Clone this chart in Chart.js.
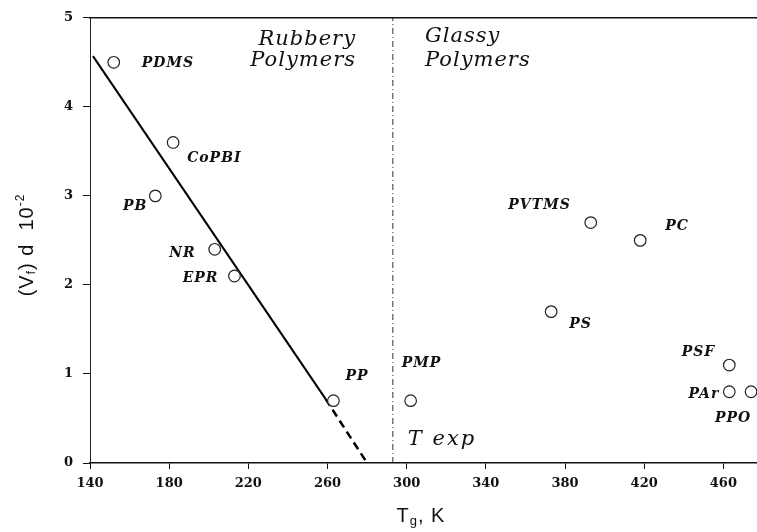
<!DOCTYPE html>
<html>
<head>
<meta charset="utf-8">
<script src="https://cdn.jsdelivr.net/npm/chart.js@4.4.1/dist/chart.umd.min.js"></script>
<style>
  html, body { margin: 0; padding: 0; background: #fff; overflow: hidden; }
  #wrap { position: relative; width: 757px; height: 532px; }
</style>
</head>
<body>
<div id="wrap"><canvas id="c" width="757" height="532"></canvas></div>
<script>
// Polymers, glass transition temperature (K) and free volume fraction (x 10^-2)
const polymers = ['PDMS', 'CoPBI', 'PB', 'NR', 'EPR', 'PP', 'PMP', 'PS', 'PVTMS', 'PC', 'PSF', 'PAr', 'PPO'];
const tg = [152, 182, 173, 203, 213, 263, 302, 373, 393, 418, 463, 463, 474];
const vf = [4.5, 3.6, 3.0, 2.4, 2.1, 0.7, 0.7, 1.7, 2.7, 2.5, 1.1, 0.8, 0.8];

// Correlation line for the rubbery polymers and its extrapolation to zero
const fitT = [141.5, 259];
const fitV = [4.57, 0.72];
const extT = [259, 280];
const extV = [0.72, 0];

// Experiment temperature, K
const tExp = 293;

// Axis ticks
const xTicks = [140, 180, 220, 260, 300, 340, 380, 420, 460];
const yTicks = [0, 1, 2, 3, 4, 5];

// Label placement relative to each point (px): dx, dy, text alignment
const labelPlacement = {
  PDMS:  [28, 5, 'left'],
  CoPBI: [14, 20, 'left'],
  PB:    [-8, 14, 'right'],
  NR:    [-19, 8, 'right'],
  EPR:   [-16, 6, 'right'],
  PP:    [12, -21, 'left'],
  PMP:   [-9, -34, 'left'],
  PS:    [18, 16, 'left'],
  PVTMS: [-20, -14, 'right'],
  PC:    [25, -10, 'left'],
  PSF:   [-14, -9, 'right'],
  PAr:   [-10, 6, 'right'],
  PPO:   [-36, 30, 'left']
};

const pts = (xs, ys) => xs.map((x, i) => ({ x: x, y: ys[i] }));

const annotations = {
  id: 'annotations',
  afterDatasetsDraw(chart) {
    const ctx = chart.ctx;
    const xs = chart.scales.x, ys = chart.scales.y;
    ctx.save();
    ctx.fillStyle = '#111';
    ctx.textBaseline = 'alphabetic';

    // point names
    ctx.font = 'bold italic 14px "DejaVu Serif"';
    ctx.letterSpacing = '1px';
    polymers.forEach((name, i) => {
      const p = labelPlacement[name];
      const px = xs.getPixelForValue(tg[i]) + p[0];
      const py = ys.getPixelForValue(vf[i]) + p[1];
      ctx.textAlign = p[2];
      ctx.fillText(name, px, py);
    });

    // region captions
    ctx.font = 'italic 21px "DejaVu Serif"';
    ctx.letterSpacing = '1px';
    ctx.textAlign = 'right';
    ctx.fillText('Rubbery', 356, 45);
    ctx.fillText('Polymers', 356, 66);
    ctx.textAlign = 'left';
    ctx.fillText('Glassy', 425, 42);
    ctx.fillText('Polymers', 425, 66);
    ctx.letterSpacing = '2px';
    ctx.fillText('T exp', xs.getPixelForValue(tExp) + 15, 445);
    ctx.restore();

    // axis titles with sub/superscripts
    const drawRich = (parts, cx, cy, rot) => {
      ctx.save();
      ctx.translate(cx, cy);
      ctx.rotate(rot);
      ctx.fillStyle = '#111';
      ctx.textAlign = 'left';
      ctx.textBaseline = 'alphabetic';
      ctx.letterSpacing = '1px';
      let w = 0;
      parts.forEach(p => { ctx.font = p[1] + 'px "Liberation Sans"'; w += ctx.measureText(p[0]).width; });
      let x = -w / 2;
      parts.forEach(p => {
        ctx.font = p[1] + 'px "Liberation Sans"';
        ctx.fillText(p[0], x, p[2]);
        x += ctx.measureText(p[0]).width;
      });
      ctx.restore();
    };
    drawRich([['(V', 20, 6], ['f', 12, 8], [') d  10', 20, 6], ['-2', 12, -3]], 27, 245, -Math.PI / 2);
    drawRich([['T', 20, 6], ['g', 13, 9], [', K', 20, 6]], 421, 516, 0);
  }
};

const tickFont = { family: '"DejaVu Serif"', size: 13, weight: 'bold' };

new Chart(document.getElementById('c'), {
  type: 'scatter',
  data: {
    datasets: [
      {
        label: 'polymers',
        data: pts(tg, vf),
        pointStyle: 'circle',
        pointRadius: 5.8,
        pointBorderWidth: 1.2,
        pointBorderColor: '#222',
        pointBackgroundColor: '#fff',
        showLine: false,
        order: 0
      },
      {
        type: 'line',
        label: 'correlation',
        data: pts(fitT, fitV),
        borderColor: '#000',
        borderWidth: 2,
        pointRadius: 0,
        order: 1
      },
      {
        type: 'line',
        label: 'extrapolation',
        data: pts(extT, extV),
        borderColor: '#000',
        borderWidth: 2.5,
        borderDash: [8, 5],
        pointRadius: 0,
        order: 2
      },
      {
        type: 'line',
        label: 'T exp',
        data: [{ x: tExp, y: yTicks[0] }, { x: tExp, y: yTicks[yTicks.length - 1] }],
        borderColor: '#333',
        borderWidth: 1,
        borderDash: [6, 3, 1, 3],
        pointRadius: 0,
        order: 3
      }
    ]
  },
  options: {
    responsive: false,
    animation: false,
    events: [],
    layout: { padding: 0, autoPadding: false },
    plugins: { legend: { display: false }, tooltip: { enabled: false } },
    scales: {
      x: {
        type: 'linear',
        position: 'bottom',
        min: 140,
        max: 477,
        afterBuildTicks: s => { s.ticks = xTicks.map(v => ({ value: v })); },
        afterFit: s => { s.height = 69; },
        ticks: { font: tickFont, color: '#111', padding: 7, maxRotation: 0 },
        grid: { drawOnChartArea: false, drawTicks: true, tickLength: 6, color: '#111', lineWidth: 1 },
        border: { display: true, color: '#111', width: 1.5 }
      },
      x2: {
        type: 'linear',
        position: 'top',
        min: 140,
        max: 477,
        afterFit: s => { s.height = 16; },
        ticks: { display: false },
        grid: { display: false },
        border: { display: true, color: '#111', width: 1.5 }
      },
      y: {
        type: 'linear',
        min: 0,
        max: 5,
        afterBuildTicks: s => { s.ticks = yTicks.map(v => ({ value: v })); },
        afterFit: s => { s.width = 90; },
        ticks: { font: tickFont, color: '#111', padding: 10 },
        grid: { drawOnChartArea: false, drawTicks: true, tickLength: 7, color: '#111', lineWidth: 1 },
        border: { display: true, color: '#222', width: 1, dash: [6, 2, 1, 2] }
      }
    }
  },
  plugins: [annotations]
});
</script>
</body>
</html>
